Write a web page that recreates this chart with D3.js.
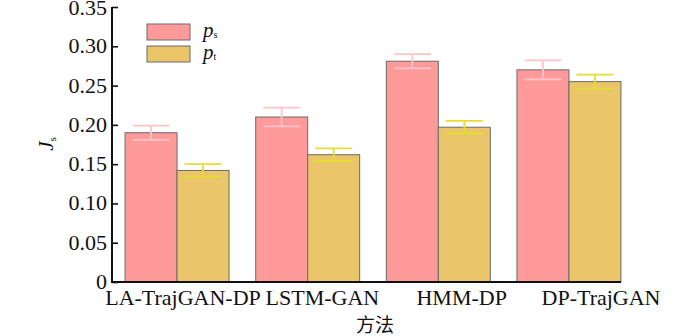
<!DOCTYPE html>
<html>
<head>
<meta charset="utf-8">
<script src="https://cdn.jsdelivr.net/npm/d3@7/dist/d3.min.js"></script>
<style>
  html, body { margin: 0; padding: 0; background: #fff; }
  svg { display: block; }
  text { font-family: "Liberation Serif", "Times New Roman", serif; fill: #111; }
</style>
</head>
<body>
<svg id="chart" width="700" height="336"></svg>
<script>
// Methods compared and their J_s scores
const categories = ["LA-TrajGAN-DP", "LSTM-GAN", "HMM-DP", "DP-TrajGAN"];
const seriesKeys = ["ps", "pt"];
const psValues = [0.190, 0.210, 0.281, 0.270];
const ptValues = [0.142, 0.162, 0.197, 0.255];
const psErrors = [0.009, 0.012, 0.009, 0.012];
const ptErrors = [0.008, 0.008, 0.008, 0.009];
const yTicks = [0, 0.05, 0.10, 0.15, 0.20, 0.25, 0.30, 0.35];
const yTickLabels = ["0", "0.05", "0.10", "0.15", "0.20", "0.25", "0.30", "0.35"];

const fill = { ps: "#fe9a9a", pt: "#ebc56a" };
const errColor = { ps: "#ffc4c8", pt: "#e6dc34" };
const stretch = 1.1; // horizontal glyph stretch for serif labels

const svg = d3.select("#chart");

const y = d3.scaleLinear().domain([0, 0.35]).range([282, 7]);
const x0 = d3.scaleBand().domain(categories).range([112, 634]).paddingInner(0.204).paddingOuter(0.1);
const x1 = d3.scaleBand().domain(seriesKeys).range([0, x0.bandwidth()]);
const labelX = d3.scalePoint().domain(categories).range([183, 601]);

const rows = categories.map((c, i) => ({
  cat: c,
  items: [
    { key: "ps", v: psValues[i], e: psErrors[i] },
    { key: "pt", v: ptValues[i], e: ptErrors[i] }
  ]
}));

// bars
const groups = svg.append("g").selectAll("g").data(rows).join("g")
  .attr("transform", d => `translate(${x0(d.cat)},0)`);

groups.selectAll("rect").data(d => d.items).join("rect")
  .attr("x", d => x1(d.key))
  .attr("y", d => y(d.v))
  .attr("width", x1.bandwidth())
  .attr("height", d => y(0) - y(d.v))
  .attr("fill", d => fill[d.key])
  .attr("stroke", "#6a6a6a")
  .attr("stroke-width", 1);

// error bars
const cap = 18.5;
const eb = groups.selectAll("g.err").data(d => d.items).join("g").attr("class", "err")
  .attr("stroke", d => errColor[d.key]).attr("stroke-width", 1.8);
eb.append("line")
  .attr("x1", d => x1(d.key) + x1.bandwidth() / 2).attr("x2", d => x1(d.key) + x1.bandwidth() / 2)
  .attr("y1", d => y(d.v + d.e)).attr("y2", d => y(d.v - d.e));
eb.append("line")
  .attr("x1", d => x1(d.key) + x1.bandwidth() / 2 - cap).attr("x2", d => x1(d.key) + x1.bandwidth() / 2 + cap)
  .attr("y1", d => y(d.v + d.e)).attr("y2", d => y(d.v + d.e));
eb.append("line")
  .attr("x1", d => x1(d.key) + x1.bandwidth() / 2 - cap).attr("x2", d => x1(d.key) + x1.bandwidth() / 2 + cap)
  .attr("y1", d => y(d.v - d.e)).attr("y2", d => y(d.v - d.e));

// y axis: ticks point inward, labels on the left
const yAxis = svg.append("g").attr("transform", "translate(112,0)")
  .call(d3.axisRight(y).tickValues(yTicks).tickSize(6).tickFormat(""));
yAxis.select(".domain").attr("stroke", "#111").attr("stroke-width", 2).attr("d", `M0,${y(0.35)}V${y(0)}`);
yAxis.selectAll(".tick line").attr("stroke", "#111").attr("stroke-width", 1.6);

svg.append("g").selectAll("text").data(yTicks).join("text")
  .attr("transform", d => `translate(107,${Math.max(y(d) + 7, 15)}) scale(${stretch},1)`)
  .attr("text-anchor", "end")
  .attr("font-size", 20)
  .text((d, i) => yTickLabels[i]);

// x axis line
const xEnd = x0(categories[categories.length - 1]) + x0.bandwidth();
svg.append("line")
  .attr("x1", 111).attr("x2", xEnd).attr("y1", y(0)).attr("y2", y(0))
  .attr("stroke", "#111").attr("stroke-width", 2);

svg.append("g").selectAll("text").data(categories).join("text")
  .attr("transform", d => `translate(${labelX(d)},${305}) scale(${stretch},1)`)
  .attr("text-anchor", "middle")
  .attr("font-size", 20)
  .text(d => d);

// axis titles
svg.append("text")
  .attr("x", 375).attr("y", 332)
  .attr("text-anchor", "middle")
  .attr("font-size", 19)
  .style("font-family", "'Noto Sans CJK SC', sans-serif")
  .text("方法");

const yTitle = svg.append("text")
  .attr("transform", "translate(53,144) rotate(-90)")
  .attr("text-anchor", "middle")
  .attr("font-size", 21);
yTitle.append("tspan").attr("font-style", "italic").text("J");
yTitle.append("tspan").attr("font-size", 11).attr("dy", 3).text("s");

// legend
const legend = svg.append("g");
const legendItems = [
  { key: "ps", sub: "s", y: 24 },
  { key: "pt", sub: "t", y: 46 }
];
legend.selectAll("rect").data(legendItems).join("rect")
  .attr("x", 147).attr("y", d => d.y).attr("width", 43).attr("height", 16)
  .attr("fill", d => fill[d.key]).attr("stroke", "#6a6a6a").attr("stroke-width", 1);
const lt = legend.selectAll("text").data(legendItems).join("text")
  .attr("x", 203).attr("y", d => d.y + 13)
  .attr("font-size", 21);
lt.append("tspan").attr("font-style", "italic").text("p");
lt.append("tspan").attr("font-size", 10).attr("dy", 1).text(d => d.sub);
</script>
</body>
</html>
